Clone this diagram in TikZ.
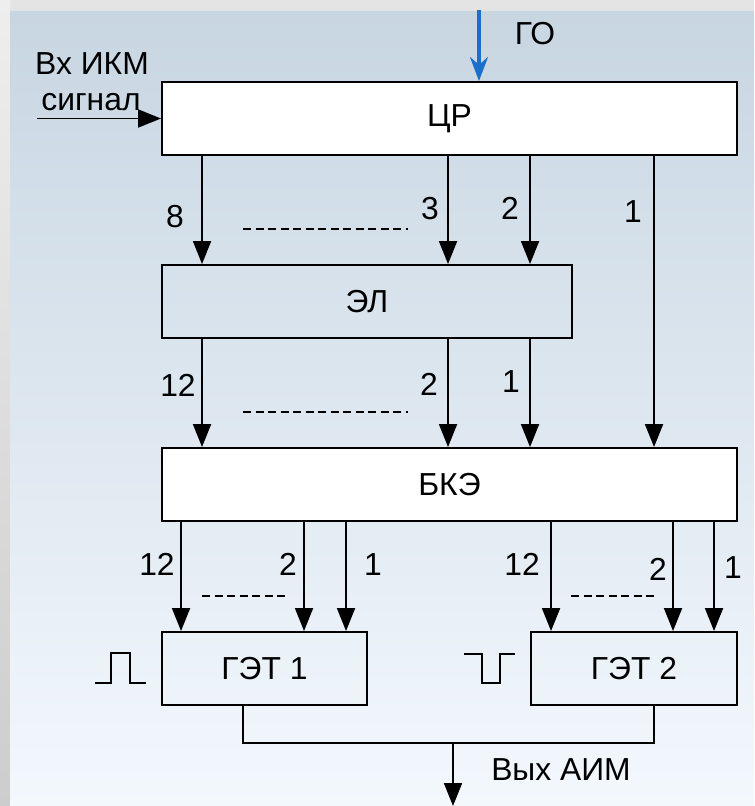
\documentclass[tikz,border=0pt]{standalone}
\usepackage{fontspec}
\setmainfont{Liberation Sans}
\usetikzlibrary{arrows.meta,positioning,calc}
\definecolor{panelTop}{HTML}{C8D6E2}
\definecolor{panelBot}{HTML}{F3F8FD}
\definecolor{frameGray}{HTML}{E4E4E4}
\definecolor{edgeTop}{HTML}{EEEEEE}
\definecolor{edgeBot}{HTML}{CDCDCD}
\definecolor{goBlue}{HTML}{1A6FCC}

\begin{document}
\begin{tikzpicture}[
  font=\fontsize{23}{27}\selectfont,
  >={Triangle[length=0.23in,width=0.18in]},
  blockbox/.style={
    draw=black,
    line width=1.4pt,
    minimum height=0.73in,
    inner sep=0pt,
    align=center
  },
  sig/.style={->, line width=1.4pt},
  wire/.style={line width=1.4pt},
  dots/.style={line width=1.4pt, dash pattern=on 0.08in off 0.045in},
  lbl/.style={inner sep=0pt, anchor=base}
]

  % Background panel
  \useasboundingbox (0,0) rectangle (7.54in,-8.06in);
  \fill[frameGray] (0,0) rectangle (7.54in,-8.06in);
  \shade[top color=edgeTop, bottom color=edgeBot] (0,0) rectangle (0.10in,-8.06in);
  \shade[top color=panelTop, bottom color=panelBot] (0.10in,-0.12in) rectangle (7.54in,-8.06in);

  % Blocks
  \node[blockbox, fill=white, minimum width=5.75in] (cr) at (4.495in,-1.185in) {ЦР};
  \node[blockbox, minimum width=4.10in] (el) at (3.67in,-3.015in) {ЭЛ};
  \node[blockbox, fill=white, minimum width=5.75in] (bke) at (4.495in,-4.845in) {БКЭ};
  \node[blockbox, minimum width=2.05in] (get1) at (2.645in,-6.685in) {ГЭТ 1};
  \node[blockbox, minimum width=2.06in] (get2) at (6.34in,-6.685in) {ГЭТ 2};

  % Inputs
  \coordinate (vin) at (0.37in,-1.185in);
  \draw[sig] (vin) -- (cr.west);
  \node[lbl] (nin1) at (0.92in,-0.74in) {Вх ИКМ};
  \node[lbl] (nin2) at (0.91in,-1.10in) {сигнал};

  \coordinate (gotop) at (4.79in,-0.10in);
  \draw[->, >={Stealth[length=0.24in,width=0.18in]}, draw=goBlue, line width=2.2pt] (gotop) -- (gotop |- cr.north);
  \node[lbl] (ngo) at (5.35in,-0.44in) {ГО};

  % ЦР -> ЭЛ, ЦР -> БКЭ
  \foreach \dx in {0.41,2.87,3.69} {
    \coordinate (tip) at ([xshift=\dx in]el.north west);
    \draw[sig] (tip |- cr.south) -- (tip);
  }
  \coordinate (tip) at ([xshift=4.93in]bke.north west);
  \draw[sig] (tip |- cr.south) -- (tip);

  \node[lbl] at (1.75in,-2.27in) {8};
  \node[lbl] at (4.30in,-2.19in) {3};
  \node[lbl] at (5.10in,-2.19in) {2};
  \node[lbl] at (6.33in,-2.22in) {1};
  \draw[dots] (2.43in,-2.29in) -- (4.08in,-2.29in);

  % ЭЛ -> БКЭ
  \foreach \dx in {0.41,2.87,3.69} {
    \coordinate (tip) at ([xshift=\dx in]bke.north west);
    \draw[sig] (tip |- el.south) -- (tip);
  }
  \node[lbl] at (1.78in,-3.96in) {12};
  \node[lbl] at (4.29in,-3.95in) {2};
  \node[lbl] at (5.11in,-3.92in) {1};
  \draw[dots] (2.43in,-4.12in) -- (4.08in,-4.12in);

  % БКЭ -> ГЭТ 1, ГЭТ 2
  \foreach \dx in {0.20,1.43,1.85} {
    \coordinate (tip) at ([xshift=\dx in]get1.north west);
    \draw[sig] (tip |- bke.south) -- (tip);
  }
  \foreach \dx in {0.21,1.43,1.84} {
    \coordinate (tip) at ([xshift=\dx in]get2.north west);
    \draw[sig] (tip |- bke.south) -- (tip);
  }
  \node[lbl] at (1.57in,-5.75in) {12};
  \node[lbl] at (2.88in,-5.75in) {2};
  \node[lbl] at (3.73in,-5.75in) {1};
  \draw[dots] (2.02in,-5.96in) -- (2.86in,-5.96in);
  \node[lbl] at (5.22in,-5.75in) {12};
  \node[lbl] at (6.58in,-5.80in) {2};
  \node[lbl] at (7.33in,-5.78in) {1};
  \draw[dots] (5.71in,-5.96in) -- (6.55in,-5.96in);

  % Pulse shapes
  \draw[wire] (0.95in,-6.83in) -- (1.11in,-6.83in) -- (1.11in,-6.53in) -- (1.30in,-6.53in) -- (1.30in,-6.83in) -- (1.46in,-6.83in);
  \draw[wire] (4.64in,-6.54in) -- (4.82in,-6.54in) -- (4.82in,-6.83in) -- (5.00in,-6.83in) -- (5.00in,-6.54in) -- (5.15in,-6.54in);

  % Output
  \draw[wire] ([xshift=0.82in]get1.south west) -- ++(0,-0.37in) -| ([xshift=1.24in]get2.south west);
  \coordinate (jn) at (4.53in,-7.43in);
  \coordinate (vout) at (4.53in,-8.06in);
  \draw[sig] (jn) -- (vout);
  \node[lbl] (nout) at (5.61in,-7.80in) {Вых АИМ};

\end{tikzpicture}
\end{document}
